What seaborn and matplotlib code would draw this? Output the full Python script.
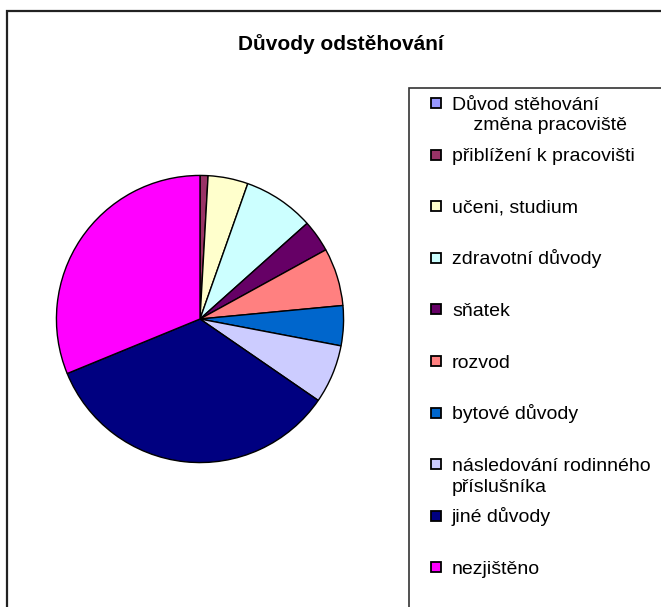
import matplotlib
matplotlib.use("Agg")
import matplotlib.pyplot as plt
from matplotlib.patches import Rectangle
import seaborn as sns

title = "Důvody odstěhování"
labels = [
    "Důvod stěhování\n    změna pracoviště",
    "přiblížení k pracovišti",
    "učeni, studium",
    "zdravotní důvody",
    "sňatek",
    "rozvod",
    "bytové důvody",
    "následování rodinného\npříslušníka",
    "jiné důvody",
    "nezjištěno",
]
values = [0, 0.9, 4.5, 8.0, 3.6, 6.5, 4.5, 6.6, 34.2, 31.2]
colors = ["#9999FF", "#993366", "#FFFFCC", "#CCFFFF", "#660066",
          "#FF8080", "#0066CC", "#CCCCFF", "#000080", "#FF00FF"]

sns.set_style("white")
plt.rcParams['font.family'] = ['Liberation Sans', 'DejaVu Sans']
plt.rcParams['text.color'] = 'black'

W, H = 661, 607
fig = plt.figure(figsize=(W / 100, H / 100), dpi=100)
fig.patch.set_facecolor("white")

def fx(x):
    return x / W

def fy(y):
    return 1 - y / H

# chart frame (only left and top edges visible)
fig.patches.append(Rectangle((fx(7), -0.2), 1.2, fy(11) + 0.2, transform=fig.transFigure,
                             fill=False, edgecolor="#222222", lw=1.6))
# legend frame
fig.patches.append(Rectangle((fx(409), -0.2), 1.2, fy(88) + 0.2, transform=fig.transFigure,
                             fill=False, edgecolor="#333333", lw=1.2))

# pie
cx, cy, r = 200, 319, 145
ax = fig.add_axes([fx(cx - r), fy(cy + r), 2 * r / W, 2 * r / H])
ax.pie(values, colors=colors, startangle=90, counterclock=False,
       wedgeprops=dict(edgecolor="black", linewidth=1.0))
ax.set_xlim(-1.01, 1.01)
ax.set_ylim(-1.01, 1.01)
ax.set_aspect("equal")
ax.axis("off")

fig.text(fx(341), fy(50), title, ha="center", va="baseline",
         fontsize=15, fontweight="bold", color="black")

# legend entries
y0, step = 103, 51.6
for i, (lab, col) in enumerate(zip(labels, colors)):
    y = y0 + i * step
    fig.patches.append(Rectangle((fx(431), fy(y + 5)), 10 / W, 10 / H,
                                 transform=fig.transFigure, facecolor=col,
                                 edgecolor="black", lw=1.3))
    for j, line in enumerate(lab.split("\n")):
        fig.text(fx(452), fy(y + 6.5 + j * 21), line, ha="left", va="baseline",
                 fontsize=14, color="black")

fig.savefig("out.png", dpi=100, facecolor="white")
